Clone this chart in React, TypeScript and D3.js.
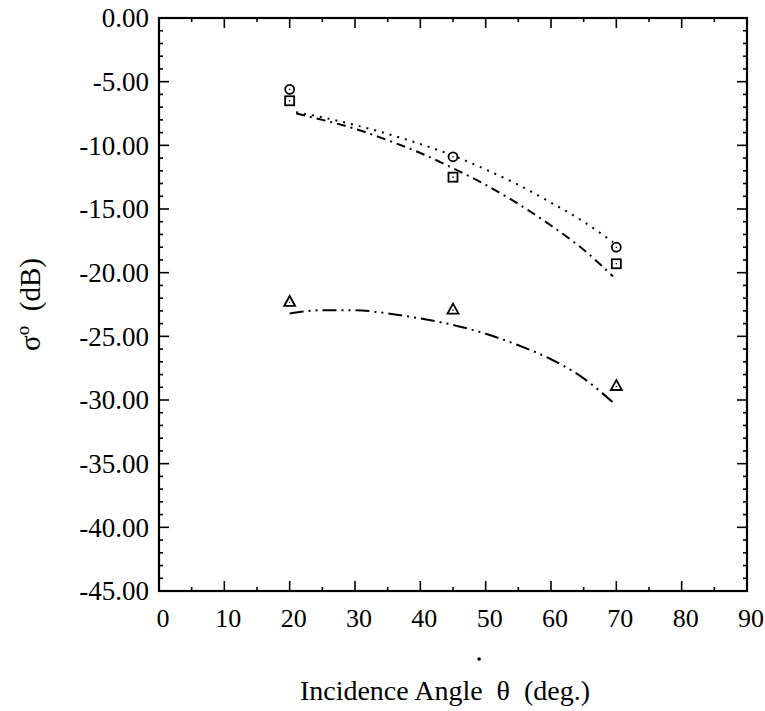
import React from "react";
import * as d3 from "d3";

const xTicks = [0, 10, 20, 30, 40, 50, 60, 70, 80, 90];
const yTicks = [0, -5, -10, -15, -20, -25, -30, -35, -40, -45];

// measured points
const circleAngles = [20, 45, 70];
const circleValues = [-5.6, -10.9, -18.0];
const squareAngles = [20, 45, 70];
const squareValues = [-6.5, -12.5, -19.3];
const triangleAngles = [20, 45, 70];
const triangleValues = [-22.3, -22.9, -28.9];

// model curves
const dottedCurve: [number, number][] = [
  [21, -7.4], [25, -7.8], [30, -8.4], [35, -9.1], [40, -9.9], [45, -10.8],
  [50, -11.9], [55, -13.1], [60, -14.5], [65, -16.0], [69.5, -17.6],
];
const dashCurve: [number, number][] = [
  [21, -7.5], [25, -8.0], [30, -8.7], [35, -9.6], [40, -10.6], [45, -11.8],
  [50, -13.1], [55, -14.6], [60, -16.3], [65, -18.2], [69.5, -20.3],
];
const triCurve: [number, number][] = [
  [20, -23.2], [25, -22.95], [30, -22.95], [35, -23.2], [40, -23.6], [45, -24.1],
  [50, -24.8], [55, -25.7], [60, -26.8], [65, -28.3], [69.5, -30.2],
];

const W = 765, H = 711;
const L = 159, R = 747, T = 18, B = 591;

export default function App() {
  const x = d3.scaleLinear().domain([0, 90]).range([L, R]);
  const y = d3.scaleLinear().domain([0, -45]).range([T, B]);
  const line = d3.line<[number, number]>().x(d => x(d[0])).y(d => y(d[1])).curve(d3.curveMonotoneX);
  const font = "Liberation Serif, Times New Roman, Times, serif";
  const fmt = (v: number) => d3.format(".2f")(v).replace("\u2212", "-");

  const yMinor = d3.range(0, -46, -1);
  const xMinor = d3.range(0, 91, 5);

  return (
    <svg width={W} height={H} style={{ position: "absolute", left: 0, top: 0, background: "#fff", fontFamily: font }}>
      <rect x={0} y={0} width={W} height={H} fill="#fff" />
      {/* ticks */}
      <g stroke="#000" strokeWidth={1.6}>
        {yMinor.map(v => {
          const major = v % 5 === 0;
          const len = major ? 10 : 4;
          return (
            <g key={"y" + v}>
              <line x1={L} x2={L + len} y1={y(v)} y2={y(v)} />
              <line x1={R} x2={R - len} y1={y(v)} y2={y(v)} />
            </g>
          );
        })}
        {xMinor.map(v => {
          const major = v % 10 === 0;
          const len = major ? 10 : 4;
          return (
            <g key={"x" + v}>
              <line x1={x(v)} x2={x(v)} y1={B} y2={B - len} />
              <line x1={x(v)} x2={x(v)} y1={T} y2={T + len} />
            </g>
          );
        })}
      </g>
      <rect x={L} y={T} width={R - L} height={B - T} fill="none" stroke="#000" strokeWidth={2.2} />

      {/* y tick labels */}
      {yTicks.map(v => (
        <text key={"yl" + v} x={L - 10} y={y(v)} dy="0.35em" textAnchor="end" fontSize={27} style={{ fontFamily: font }}>
          {fmt(v)}
        </text>
      ))}
      {/* x tick labels */}
      {xTicks.map(v => (
        <text key={"xl" + v} x={x(v) + 4} y={B + 36} textAnchor="middle" fontSize={26} style={{ fontFamily: font }}>
          {v}
        </text>
      ))}

      {/* axis titles */}
      <text x={(L + R) / 2 - 8} y={700} textAnchor="middle" fontSize={28} style={{ fontFamily: font }}>
        Incidence Angle{"\u2002"}θ{"\u2002"}(deg.)
      </text>
      <circle cx={x(49)} cy={B + 68} r={1.8} fill="#000" />
      <text transform={`translate(40, ${(T + B) / 2}) rotate(-90)`} textAnchor="middle" fontSize={29} style={{ fontFamily: font }}>
        σ<tspan dy={-11} fontSize={19}>o</tspan><tspan dy={11}>{"\u2002"}(dB)</tspan>
      </text>

      {/* curves */}
      <g fill="none" stroke="#000">
        <path d={line(dottedCurve) || ""} strokeWidth={2} strokeDasharray="2,6" />
        <path d={line(dashCurve) || ""} strokeWidth={2} strokeDasharray="9,5,2,5" />
        <path d={line(triCurve) || ""} strokeWidth={2} strokeDasharray="14,5,2,5,2,5" />
      </g>

      {/* markers */}
      <g fill="#fff" stroke="#000" strokeWidth={1.8}>
        {circleAngles.map((a, i) => (
          <g key={"c" + i}>
            <circle cx={x(a)} cy={y(circleValues[i])} r={4.5} />
            <circle cx={x(a)} cy={y(circleValues[i])} r={0.8} fill="#000" stroke="none" />
          </g>
        ))}
        {squareAngles.map((a, i) => (
          <g key={"s" + i}>
            <rect x={x(a) - 4.5} y={y(squareValues[i]) - 4.5} width={9} height={9} />
            <circle cx={x(a)} cy={y(squareValues[i])} r={0.8} fill="#000" stroke="none" />
          </g>
        ))}
        {triangleAngles.map((a, i) => {
          const cx = x(a), cy = y(triangleValues[i]);
          return (
            <g key={"t" + i}>
              <path d={`M${cx},${cy - 6} L${cx + 5.5},${cy + 4} L${cx - 5.5},${cy + 4} Z`} />
              <circle cx={cx} cy={cy + 0.5} r={0.8} fill="#000" stroke="none" />
            </g>
          );
        })}
      </g>
    </svg>
  );
}
